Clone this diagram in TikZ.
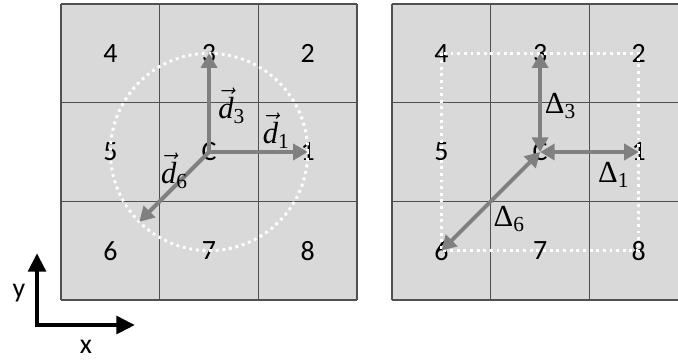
\documentclass[tikz,border=0pt]{standalone}
\usepackage{fontspec}
\usepackage{amsmath}
\setmainfont{Carlito}
\newfontfamily\termfont{Liberation Serif}
\usetikzlibrary{arrows.meta}
\definecolor{gridfill}{HTML}{D9D9D9}
\definecolor{gridline}{HTML}{505050}
\definecolor{vecgray}{HTML}{808080}
\newcommand{\dvec}[1]{$\vec{\text{\itshape d}}_{\text{#1}}$}
\newcommand{\dlt}[1]{Δ$_{\text{#1}}$}
\tikzset{
  num/.style={font=\fontsize{21}{24}\selectfont, inner sep=0pt},
  termlabel/.style={font=\termfont\fontsize{23}{26}\selectfont, inner sep=0pt},
  dotring/.style={draw=white, line width=2.2pt, dash pattern=on 2.2pt off 2.8pt},
  vecarrow/.style={draw=vecgray, line width=3pt, -{Triangle[length=11pt,width=12pt]}},
  gaparrow/.style={draw=vecgray, line width=3pt, {Triangle[length=11pt,width=12pt]}-{Triangle[length=11pt,width=12pt]}},
  axis/.style={line width=3.5pt, {Triangle[length=14pt,width=13pt]}-{Triangle[length=14pt,width=13pt]}}
}
\begin{document}
\begin{tikzpicture}[x=2.61cm, y=2.61cm, line width=1pt]
	\useasboundingbox (-0.618,-0.608) rectangle (6.251,3.04);
	% the two 3x3 neighbourhoods, cells numbered round the centre C
	\foreach \gx/\gn in {0/L, 3.354/R} {
		\begin{scope}[shift={(\gx,0)}]
			\fill[gridfill] (0,0) rectangle (3,3);
			\draw[gridline, step=1.0] (0,0) grid (3,3);
			\foreach \k/\cx/\cy/\t in {0/1/1/C, 1/2/1/1, 2/2/2/2, 3/1/2/3,
				4/0/2/4, 5/0/1/5, 6/0/0/6, 7/1/0/7, 8/2/0/8}
			\node[num] (\gn\k) at (\cx+0.5,\cy+0.5) {\t};
		\end{scope}
	}
	% left: displacement vectors on the unit circle
	\draw[dotring] (L0.center) circle (1);
	\coordinate (L6tip) at ([shift={(225:1)}]L0.center);
	\draw[vecarrow] (L0.center) -- (L3.center);
	\draw[vecarrow] (L0.center) -- (L1.center);
	\draw[vecarrow] (L0.center) -- (L6tip);
	\node[termlabel] (d3) at (1.73,1.97) {\dvec{3}};
	\node[termlabel] (d1) at (2.18,1.72) {\dvec{1}};
	\node[termlabel] (d6) at (1.15,1.31) {\dvec{6}};
	% right: offsets to the neighbours on the square
	\draw[dotring] (R4.center) rectangle (R8.center);
	\draw[gaparrow] (R0.center) -- (R3.center);
	\draw[gaparrow] (R0.center) -- (R1.center);
	\draw[gaparrow] (R0.center) -- (R6.center);
	\node[termlabel] (D3) at (5.06,1.97) {\dlt{3}};
	\node[termlabel] (D1) at (5.60,1.27) {\dlt{1}};
	\node[termlabel] (D6) at (4.54,0.82) {\dlt{6}};
	% axes
	\coordinate (origin) at (-0.243,-0.253);
	\coordinate (xend) at (0.75,-0.253);
	\coordinate (yend) at (-0.243,0.476);
	\draw[axis] (yend) -- (origin) -- (xend);
	\node[num] (ylab) at (-0.426,0.075) {y};
	\node[num] (xlab) at (0.253,-0.47) {x};
\end{tikzpicture}
\end{document}
